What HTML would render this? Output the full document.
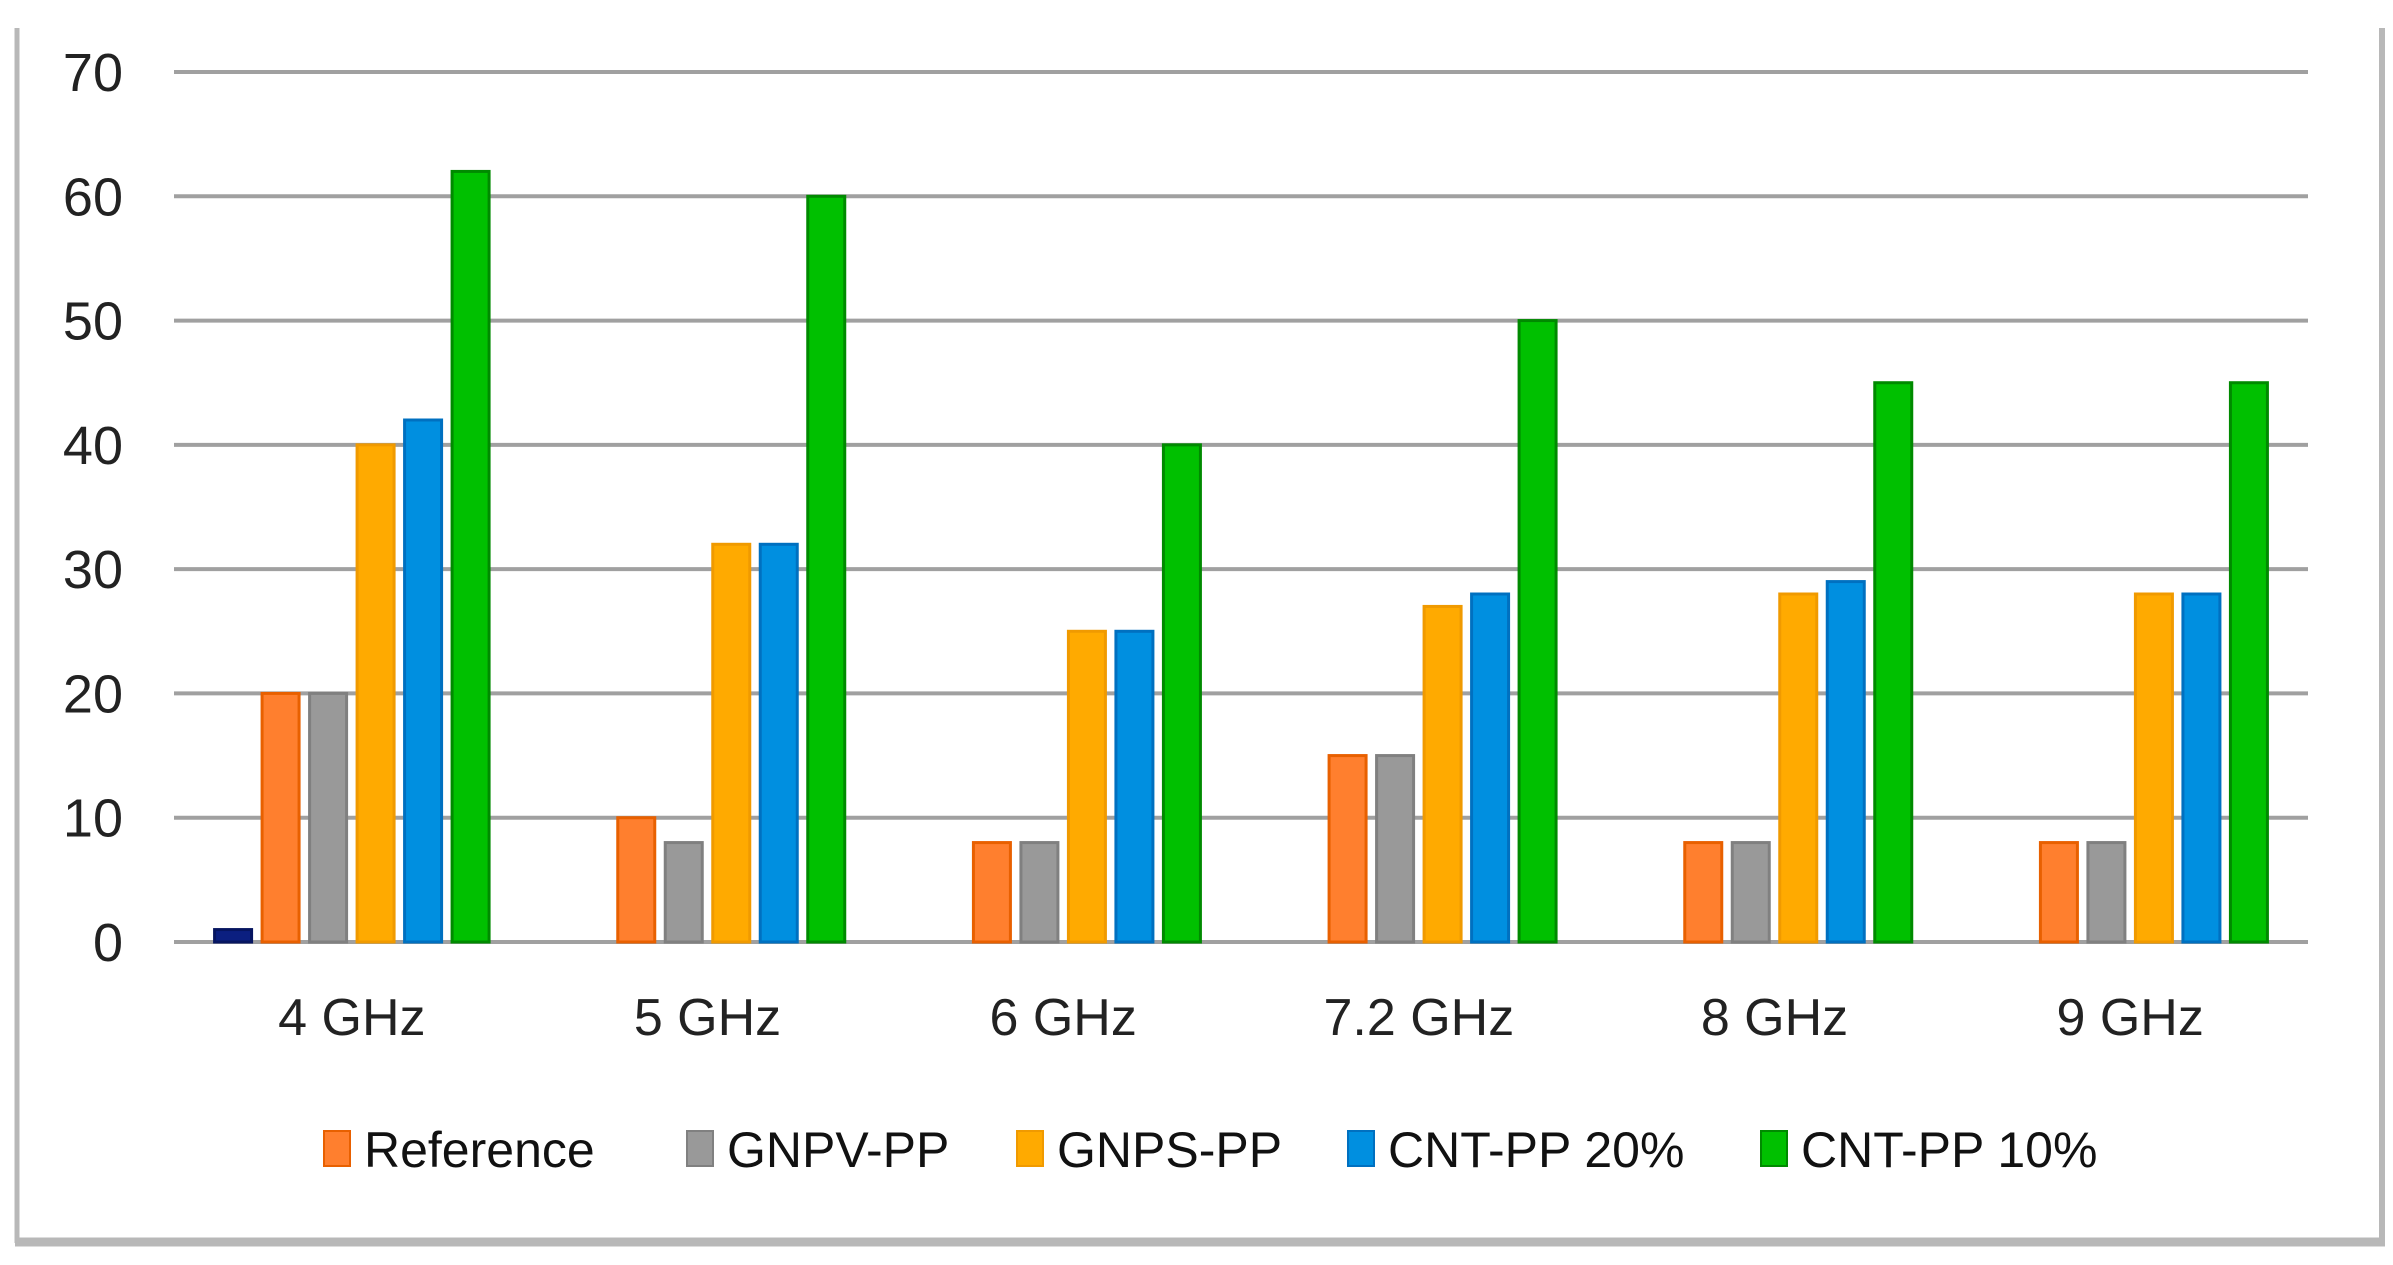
<!DOCTYPE html>
<html><head><meta charset="utf-8"><style>
html,body{margin:0;padding:0;background:#fff;}
svg{display:block;font-family:"Liberation Sans",sans-serif;}
</style></head><body>
<svg id="chart" width="2393" height="1265" viewBox="0 0 2393 1265">
<rect x="0" y="0" width="2393" height="1265" fill="#fff"/>
<line x1="17" y1="28" x2="17" y2="1243" stroke="#b8b8b8" stroke-width="5"/>
<line x1="2382" y1="28" x2="2382" y2="1243" stroke="#b8b8b8" stroke-width="6"/>
<line x1="15" y1="1242" x2="2385" y2="1242" stroke="#b8b8b8" stroke-width="9"/>
<g id="grid"></g><g id="bars"></g><g id="labels"></g><g id="legend"></g>
</svg>
<script>
const categories = ["4 GHz","5 GHz","6 GHz","7.2 GHz","8 GHz","9 GHz"];
const seriesNames = ["", "Reference","GNPV-PP","GNPS-PP","CNT-PP 20%","CNT-PP 10%"];
const sBlank = [1,0,0,0,0,0];
const sReference = [20,10,8,15,8,8];
const sGNPV = [20,8,8,15,8,8];
const sGNPS = [40,32,25,27,28,28];
const sCNT20 = [42,32,25,28,29,28];
const sCNT10 = [62,60,40,50,45,45];
const yTicks = [0,10,20,30,40,50,60,70];

const series = [sBlank,sReference,sGNPV,sGNPS,sCNT20,sCNT10];
const fills = ["#0b1f80","#ff7f2e","#999999","#ffaa00","#008fe0","#00c000"];
const strokes = ["#061560","#e86000","#808080","#f09a00","#0070c0","#008a00"];
const NS="http://www.w3.org/2000/svg";
const x0=174, x1=2308, y0=942, yTop=72, vmax=70;
const catW=(x1-x0)/categories.length, pitch=47.5, bw=37;
function yScale(v){return y0-(v/vmax)*(y0-yTop);}
function xCenter(i){return x0+catW*(i+0.5);}
function mk(tag,attrs,parent){const e=document.createElementNS(NS,tag);for(const k in attrs)e.setAttribute(k,attrs[k]);parent.appendChild(e);return e;}
const grid=document.getElementById('grid'),bars=document.getElementById('bars'),labels=document.getElementById('labels'),legend=document.getElementById('legend');
yTicks.forEach(t=>{
  const l=mk('line',{x1:x0,x2:x1,y1:yScale(t),y2:yScale(t),stroke:'#a0a0a0','stroke-width':4},grid);
  
  
  const tx=mk('text',{x:123,y:yScale(t)+19,'text-anchor':'end','font-size':54,fill:'#222'},labels);
  tx.textContent=t;
  
  
});
categories.forEach((c,i)=>{
  series.forEach((s,j)=>{
    const v=s[i]; if(!v) return;
    const cx=xCenter(i)+(j-2.5)*pitch;
    const r=mk('rect',{x:cx-bw/2,y:yScale(v),width:bw,height:y0-yScale(v),fill:fills[j],stroke:strokes[j],'stroke-width':3},bars);
    
    
  });
  const t=mk('text',{x:xCenter(i),y:1035,'text-anchor':'middle','font-size':52,fill:'#222'},labels);
  t.textContent=c;
  
  
});
const legX=[324,687,1017,1348,1761];
for(let k=1;k<6;k++){
  const g=mk('g',{},legend);
  
  
  mk('rect',{x:legX[k-1],y:1131,width:26,height:35,fill:fills[k],stroke:strokes[k],'stroke-width':2},g);
  const t=mk('text',{x:legX[k-1]+40,y:1167,'font-size':50,fill:'#111'},g);
  t.textContent=seriesNames[k];
}
</script>
</body></html>
